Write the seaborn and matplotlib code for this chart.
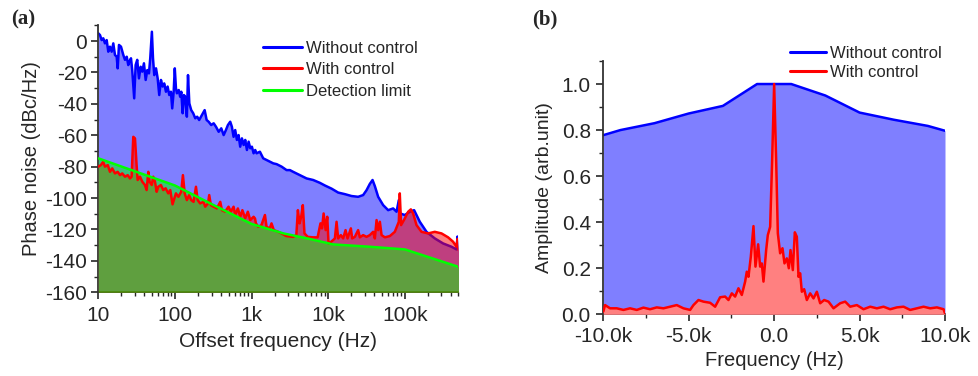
import numpy as np
import pandas as pd
import matplotlib
matplotlib.use("Agg")
import matplotlib.pyplot as plt
import seaborn as sns
from matplotlib.ticker import FixedLocator, NullFormatter, LogLocator, MultipleLocator

# ---------------- data: panel (a) phase noise ----------------
blue_f = [10, 10.52, 11.07, 11.62, 12.22, 12.86, 13.5, 14.2, 14.95, 15.69, 16.5, 17.37, 17.9, 18.61,
          19.77, 21.2, 22.3, 23.5, 24.6, 25.35, 26.7, 27.7, 29.4, 30.7, 32.2, 33.9, 35.7, 37.5,
          39.4, 41.5, 43.6, 45.8, 47.6, 50, 51.7, 53.7, 56.6, 59.5, 62.4, 65.7, 69.0, 72.5, 76.3,
          80.2, 84.3, 88.6, 92.1, 96.2, 99.5, 103, 106, 112, 117, 121, 126, 131, 136, 143, 148,
          154, 163, 173, 184, 195, 207, 225, 244, 259, 275, 297, 320, 343, 372, 402, 432, 462,
          491, 526, 553, 582, 611, 643, 676, 710, 748, 787, 826, 869, 914, 960, 1009, 1062, 1114,
          1161, 1283, 1417, 1569, 1733, 1915, 2119, 2462, 2860, 3158, 3486, 4263, 5212, 6357,
          7766, 9040, 11040, 13460, 16450, 20120, 24530, 28510, 31570, 34840, 37820, 40530,
          44770, 52020, 60430, 70220, 77780, 83250, 86540, 99700, 115900, 131800, 156400,
          191300, 245400, 315000, 405300, 471000, 485400, 500000]
blue_db = [4.9, 3.8, 0.6, 1.7, -1.5, 0.6, -6.8, -3.6, -6.8, -1.5, -8.9, -10, -17.4, -2.5,
           -3.6, -8.9, -12, -10, -15.3, -13.2, -11, -18.5, -36.5, -15.3, -12, -23.8, -16.4, -19.5,
           -14.2, -24.8, -18.5, -20.6, -11, 5.9, -11, -21.7, -17.4, -23.8, -34.4, -24.8, -29, -27, -32.3,
           -29, -34.4, -32.3, -42.9, -32.3, -17.4, -30, -33.3, -31.2, -35.5, -32.3, -46, -34.4, -35.5, -48.2, -21.7,
           -39.7, -44, -46, -49.2, -48.2, -50.3, -47.1, -44, -50.3, -51.4, -53.5, -52.4, -54.6, -57.8, -55.6, -59.9, -56.7,
           -53.5, -51.4, -54.6, -61, -56.7, -63, -59.9, -67.3, -62, -66.2, -63, -69.4, -64.1, -68.3, -67.3, -71.5, -69.4,
           -71.5, -70.5, -74.7, -75.8, -76.9, -77.9, -78.4, -80, -82.2, -82.2, -83.3, -85.4, -87.5, -88.5,
           -90.3, -92, -94, -96.5, -97.5, -98.7, -99.2, -98.1, -95, -91, -88.5, -92.4,
           -99.2, -104.5, -107.7, -106.6, -108.7, -101.3, -109.8, -110.8, -108.7, -107.7, -115.1,
           -121.5, -125.7, -128.9, -131, -132.7, -124.5, -132]

red_f = [10, 10.8, 11.6, 12.2, 13.3, 14.2, 15.2, 16.5, 17.9, 19.2, 20.5, 22.3, 24.2, 25.9, 27.2,
         28.6, 30.1, 31.6, 32.6, 35.0, 37.5, 40.6, 42.7, 44.9, 46.7, 49.8, 52.1, 54.9, 57.7, 60.6,
         65.6, 70.4, 75.6, 81.7, 86.9, 93, 103, 111, 120.7, 127, 134, 143, 153, 163, 175, 188,
         198, 213, 236, 248, 270, 280, 294, 319, 353, 390, 410, 450, 500, 537, 582, 611, 662,
         711, 758, 825, 893, 959, 1062, 1107, 1138, 1222, 1344, 1492, 1567, 1729, 1818, 1948,
         2222, 2447, 2840, 3472, 3831, 4015, 4220, 4433, 4655, 4892, 5400, 6263, 7262, 7914,
         8290, 8700, 9240, 9700, 10080, 10920, 12200, 12830, 13460, 14600, 15640, 16810, 17850,
         19720, 20510, 22240, 24530, 25820, 28510, 31570, 34840, 38480, 40530, 42660, 44770,
         47120, 49590, 54740, 63560, 73810, 83250, 85700, 89130, 99700, 110200, 119500, 128000,
         141600, 164500, 200500, 245400, 299900, 365700, 424800, 471000, 485400, 500000]
red_db = [-80, -79, -76.9, -80, -79, -83.3, -81.1, -84.3, -83.3, -85.4, -84.3, -86.4, -85.4, -87.5, -86.4,
          -61, -62, -79, -88.5, -86.4, -89.6, -91.7, -94.9, -83.3, -89.6, -91.7, -86.4, -89.6, -96, -92.8,
          -91.7, -94.9, -93.8, -97, -94.9, -104, -97, -99.2, -96, -85.4, -97, -101.3, -98.1, -101.3, -102.4, -92.8,
          -101.3, -103.4, -102.4, -105.5, -103.4, -98.1, -104.5, -105.5, -106.6, -102.4, -107.7, -108.7, -105.5, -108.7, -105.5, -110.8, -106.6,
          -111.9, -107.7, -112.9, -108.7, -114, -111.9, -113, -116.1, -118.3, -117.2, -110.8, -118.3, -119.3, -116.1, -120.4,
          -121.5, -122.5, -124.2, -124.7, -123.6, -107.7, -116.1, -111.9, -104.5, -122.5, -124.7, -125, -125, -116.1,
          -119.3, -109.8, -120.4, -111.9, -128.9, -127.8, -125.7, -115.1, -125.7, -123.6, -125.7, -120.4, -125.7,
          -119.3, -125.7, -124.7, -120.4, -125, -123.6, -124.7, -123.6, -121.5, -125.7, -114, -120.4,
          -115.1, -123.6, -125, -124.2, -121.5, -115.1, -97, -117.2, -113, -108.7, -107.2, -109.8,
          -117.2, -121.5, -122.5, -121.5, -122.5, -125, -127.8, -131, -126, -133]

green_f = [10, 100, 320, 1000, 2600, 5700, 11500, 35000, 100000, 500000]
green_db = [-74.7, -92, -104.5, -116.5, -122.5, -126, -129.5, -131, -132.7, -143.8]

# ---------------- data: panel (b) spectrum ----------------
wo_f = [-10000, -9000, -7000, -5000, -3000, -1000, 1000, 3000, 5000, 7000, 9000, 10000]
wo_a = [0.778, 0.80, 0.83, 0.872, 0.905, 1.0, 1.0, 0.95, 0.876, 0.845, 0.818, 0.797]

w_f = [-10000, -9897, -9604, -9213, -8823, -8433, -8042, -7652, -7261, -6871, -6481, -6090, -5700,
       -5309, -4919, -4724, -4431, -4138, -3748, -3455, -3162, -2869, -2674, -2479, -2284, -2089,
       -1894, -1698, -1601, -1503, -1366, -1210, -1093, -937, -820, -722, -625, -468, -371, -234,
       -117, 0, 117, 215, 351, 488, 605, 742, 859, 957, 1093, 1210, 1327, 1425, 1523, 1620, 1757,
       1913, 2108, 2303, 2499, 2694, 2928, 3182, 3475, 3865, 4158, 4451, 4841, 5231, 5622, 6012,
       6403, 6793, 7183, 7574, 7964, 8355, 8745, 9135, 9526, 9916, 10000]
w_a = [0.012, 0.04, 0.026, 0.026, 0.019, 0.026, 0.019, 0.029, 0.022, 0.03, 0.026, 0.033, 0.04,
       0.026, 0.019, 0.04, 0.062, 0.055, 0.05, 0.033, 0.074, 0.077, 0.062, 0.091, 0.077, 0.113,
       0.084, 0.142, 0.185, 0.163, 0.25, 0.383, 0.207, 0.304, 0.207, 0.221, 0.142, 0.279, 0.344, 0.38,
       0.67, 1.0, 0.67, 0.352, 0.265, 0.287, 0.221, 0.243, 0.2, 0.279, 0.192, 0.356, 0.337, 0.163, 0.178, 0.098, 0.109,
       0.062, 0.091, 0.069, 0.098, 0.048, 0.062, 0.055, 0.026, 0.048, 0.055, 0.033, 0.04, 0.022, 0.033, 0.026,
       0.033, 0.022, 0.03, 0.033, 0.019, 0.026, 0.033, 0.026, 0.03, 0.022, 0.004]

x_ticks_a = [10, 100, 1000, 10000, 100000]
x_labels_a = ["10", "100", "1k", "10k", "100k"]
y_ticks_a = [0, -20, -40, -60, -80, -100, -120, -140, -160]
x_ticks_b = [-10000, -5000, 0, 5000, 10000]
x_labels_b = ["-10.0k", "-5.0k", "0.0", "5.0k", "10.0k"]
y_ticks_b = [0.0, 0.2, 0.4, 0.6, 0.8, 1.0]

# ---------------- style ----------------
sns.set_style("ticks")
plt.rcParams["font.family"] = ["Liberation Sans", "DejaVu Sans"]
plt.rcParams["axes.unicode_minus"] = False
plt.rcParams["axes.linewidth"] = 1.3
plt.rcParams["axes.edgecolor"] = "#333333"

fig = plt.figure(figsize=(9.79, 3.76), dpi=100)
W, H = 979.0, 376.0
axa = fig.add_axes([98.3 / W, 1 - 292.3 / H, 360.2 / W, 267.0 / H])
axb = fig.add_axes([603.3 / W, 1 - 314.3 / H, 341.7 / W, 253.3 / H])

BLUE, RED, LIME = "#0000FF", "#FF0000", "#00FF00"
LW = 1.8

# ---- panel (a)
axa.set_xscale("log")
dfa_b = pd.DataFrame({"f": blue_f, "v": blue_db})
dfa_r = pd.DataFrame({"f": red_f, "v": red_db})
dfa_g = pd.DataFrame({"f": green_f, "v": green_db})
axa.fill_between(dfa_b.f, dfa_b.v, -160, color=BLUE, alpha=0.5, lw=0, zorder=1)
sns.lineplot(data=dfa_b, x="f", y="v", ax=axa, color=BLUE, lw=LW, sort=False,
             estimator=None, label="Without control", zorder=2)
axa.fill_between(dfa_r.f, dfa_r.v, -160, color=RED, alpha=0.5, lw=0, zorder=3)
axa.fill_between(dfa_g.f, dfa_g.v, -160, color=LIME, alpha=0.5, lw=0, zorder=4)
sns.lineplot(data=dfa_r, x="f", y="v", ax=axa, color=RED, lw=LW, sort=False,
             estimator=None, label="With control", zorder=5)
sns.lineplot(data=dfa_g, x="f", y="v", ax=axa, color=LIME, lw=LW, sort=False,
             estimator=None, label="Detection limit", zorder=6)
axa.set_xlim(10, 500000)
axa.set_ylim(-160, 10)
axa.xaxis.set_major_locator(FixedLocator(x_ticks_a))
axa.set_xticklabels(x_labels_a)
axa.xaxis.set_minor_locator(LogLocator(base=10, subs=np.arange(2, 10)))
axa.xaxis.set_minor_formatter(NullFormatter())
axa.yaxis.set_major_locator(FixedLocator(y_ticks_a))
axa.yaxis.set_minor_locator(MultipleLocator(10))
axa.set_xlabel("Offset frequency (Hz)", fontsize=15, labelpad=5)
axa.set_ylabel("Phase noise (dBc/Hz)", fontsize=14.5, labelpad=3)
axa.tick_params(axis="x", which="major", labelsize=15, length=5, width=1.2, direction="out", pad=5)
axa.tick_params(axis="y", which="major", labelsize=15, length=5, width=1.2, direction="out", pad=3)
axa.tick_params(which="minor", length=3, width=1.0, direction="out")
axa.legend(loc="upper left", bbox_to_anchor=(263 / W, 1 - 41 / H), bbox_transform=fig.transFigure,
           frameon=False, fontsize=12, handlelength=2.35, handletextpad=0.25,
           labelspacing=0.38, borderaxespad=0, borderpad=0)
for ln in axa.get_legend().get_lines():
    ln.set_linewidth(2.2)
sns.despine(ax=axa)

# ---- panel (b)
dfb_w = pd.DataFrame({"f": wo_f, "v": wo_a})
dfb_c = pd.DataFrame({"f": w_f, "v": w_a})
axb.fill_between(dfb_w.f, dfb_w.v, 0, color=BLUE, alpha=0.5, lw=0, zorder=1)
sns.lineplot(data=dfb_w, x="f", y="v", ax=axb, color=BLUE, lw=LW, sort=False,
             estimator=None, label="Without control", zorder=2)
axb.fill_between(dfb_c.f, dfb_c.v, 0, color="#FF8080", lw=0, zorder=3)
sns.lineplot(data=dfb_c, x="f", y="v", ax=axb, color=RED, lw=LW, sort=False,
             estimator=None, label="With control", zorder=4)
axb.set_xlim(-10000, 10000)
axb.set_ylim(0, 1.1)
axb.xaxis.set_major_locator(FixedLocator(x_ticks_b))
axb.set_xticklabels(x_labels_b)
axb.xaxis.set_minor_locator(MultipleLocator(2500))
axb.yaxis.set_major_locator(FixedLocator(y_ticks_b))
axb.set_yticklabels([f"{v:.1f}" for v in y_ticks_b])
axb.yaxis.set_minor_locator(MultipleLocator(0.1))
axb.set_xlabel("Frequency (Hz)", fontsize=14.5, labelpad=4)
axb.set_ylabel("Amplitude (arb.unit)", fontsize=14, labelpad=6)
axb.tick_params(which="major", labelsize=15, length=5, width=1.2, direction="out", pad=4)
axb.tick_params(which="minor", length=3, width=1.0, direction="out")
axb.legend(loc="upper left", bbox_to_anchor=(790 / W, 1 - 46 / H), bbox_transform=fig.transFigure,
           frameon=False, fontsize=12, handlelength=2.15, handletextpad=0.25,
           labelspacing=0.22, borderaxespad=0, borderpad=0)
for ln in axb.get_legend().get_lines():
    ln.set_linewidth(2.2)
sns.despine(ax=axb)

fig.text(11 / W, 1 - 9 / H, "(a)", fontsize=15, fontweight="bold", family="Liberation Serif", va="top")
fig.text(532 / W, 1 - 9 / H, "(b)", fontsize=15, fontweight="bold", family="Liberation Serif", va="top")

fig.savefig("out.png", dpi=100)
